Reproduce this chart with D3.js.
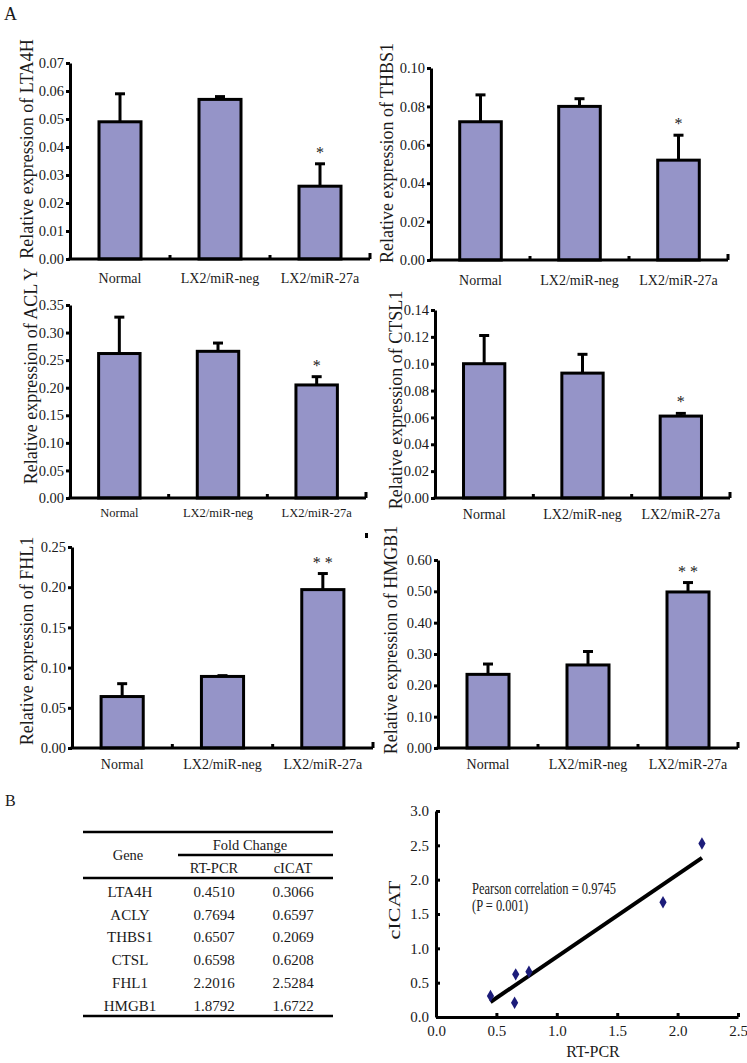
<!DOCTYPE html>
<html>
<head>
<meta charset="utf-8">
<script src="https://cdn.jsdelivr.net/npm/d3@7/dist/d3.min.js"></script>
<style>
  html, body { margin: 0; padding: 0; background: #fff; }
  svg { display: block; }
  text { font-family: "Liberation Serif", "Times New Roman", serif; fill: #1a1a1a; }
</style>
</head>
<body>
<svg id="chart" width="747" height="1063"></svg>
<script>
// ---------------- DATA ----------------
const categories = ["Normal", "LX2/miR-neg", "LX2/miR-27a"];

const lta4hMean = [0.049, 0.057, 0.026];
const lta4hErr  = [0.010, 0.001, 0.008];
const lta4hSig  = ["", "", "*"];
const lta4hTicks = [0, 0.01, 0.02, 0.03, 0.04, 0.05, 0.06, 0.07];

const thbs1Mean = [0.072, 0.080, 0.052];
const thbs1Err  = [0.014, 0.004, 0.013];
const thbs1Sig  = ["", "", "*"];
const thbs1Ticks = [0, 0.02, 0.04, 0.06, 0.08, 0.10];

const aclyMean = [0.262, 0.266, 0.205];
const aclyErr  = [0.066, 0.015, 0.015];
const aclySig  = ["", "", "*"];
const aclyTicks = [0, 0.05, 0.10, 0.15, 0.20, 0.25, 0.30, 0.35];

const ctsl1Mean = [0.100, 0.093, 0.061];
const ctsl1Err  = [0.021, 0.014, 0.002];
const ctsl1Sig  = ["", "", "*"];
const ctsl1Ticks = [0, 0.02, 0.04, 0.06, 0.08, 0.10, 0.12, 0.14];

const fhl1Mean = [0.064, 0.089, 0.197];
const fhl1Err  = [0.016, 0.001, 0.020];
const fhl1Sig  = ["", "", "* *"];
const fhl1Ticks = [0, 0.05, 0.10, 0.15, 0.20, 0.25];

const hmgb1Mean = [0.235, 0.265, 0.498];
const hmgb1Err  = [0.033, 0.043, 0.030];
const hmgb1Sig  = ["", "", "* *"];
const hmgb1Ticks = [0, 0.10, 0.20, 0.30, 0.40, 0.50, 0.60];

const panelTitles = ["Relative expression of LTA4H", "Relative expression of THBS1",
  "Relative expression of ACL Y", "Relative expression of CTSL1",
  "Relative expression of FHL1", "Relative expression of HMGB1"];

// Table / scatter data
const tableGenes = ["LTA4H", "ACLY", "THBS1", "CTSL", "FHL1", "HMGB1"];
const rtPcr = [0.4510, 0.7694, 0.6507, 0.6598, 2.2016, 1.8792];
const cIcat = [0.3066, 0.6597, 0.2069, 0.6208, 2.5284, 1.6722];
const scatterTicks = [0, 0.5, 1.0, 1.5, 2.0, 2.5];
const scatterYTicks = [0, 0.5, 1.0, 1.5, 2.0, 2.5, 3.0];
const pearsonText = ["Pearson correlation = 0.9745", "(P = 0.001)"];

// ---------------- LAYOUT ----------------
const panels = [
  { mean: lta4hMean, err: lta4hErr, sig: lta4hSig, ticks: lta4hTicks, fmt: ".2f",
    ax: 70, top: 63, bottom: 259, right: 370, tx: 33, ty: 149, lab: 283 },
  { mean: thbs1Mean, err: thbs1Err, sig: thbs1Sig, ticks: thbs1Ticks, fmt: ".2f",
    ax: 431, top: 68, bottom: 260, right: 728, tx: 393, ty: 153, lab: 285 },
  { mean: aclyMean, err: aclyErr, sig: aclySig, ticks: aclyTicks, fmt: ".2f",
    ax: 70, top: 305, bottom: 498, right: 366, tx: 37, ty: 376, lab: 517 },
  { mean: ctsl1Mean, err: ctsl1Err, sig: ctsl1Sig, ticks: ctsl1Ticks, fmt: ".2f",
    ax: 435, top: 310, bottom: 498, right: 730, tx: 402, ty: 400, lab: 519 },
  { mean: fhl1Mean, err: fhl1Err, sig: fhl1Sig, ticks: fhl1Ticks, fmt: ".2f",
    ax: 72, top: 547, bottom: 748, right: 373, tx: 33, ty: 641, lab: 769 },
  { mean: hmgb1Mean, err: hmgb1Err, sig: hmgb1Sig, ticks: hmgb1Ticks, fmt: ".2f",
    ax: 438, top: 560, bottom: 748, right: 738, tx: 397, ty: 640, lab: 769 }
];

const BAR_FILL = "#9594c8";
const svg = d3.select("#chart");

svg.append("text").attr("x", 4).attr("y", 20).attr("font-size", 18).text("A");
svg.append("text").attr("x", 5).attr("y", 806).attr("font-size", 16).text("B");

panels.forEach((p, i) => {
  const g = svg.append("g");
  const y = d3.scaleLinear()
    .domain([0, p.ticks[p.ticks.length - 1]])
    .range([p.bottom, p.top]);
  const x = d3.scaleBand()
    .domain(categories)
    .range([p.ax, p.right])
    .paddingInner(0.58)
    .paddingOuter(0.29);
  const step = x.step();

  // bars
  g.selectAll("rect.bar").data(p.mean).join("rect")
    .attr("class", "bar")
    .attr("x", (d, j) => x(categories[j]))
    .attr("y", d => y(d))
    .attr("width", x.bandwidth())
    .attr("height", d => y(0) - y(d))
    .attr("fill", BAR_FILL)
    .attr("stroke", "#000")
    .attr("stroke-width", 3);

  // error bars (upper only)
  p.mean.forEach((m, j) => {
    const cx = x(categories[j]) + x.bandwidth() / 2;
    const yt = y(m + p.err[j]);
    g.append("line").attr("x1", cx).attr("x2", cx)
      .attr("y1", y(m)).attr("y2", yt)
      .attr("stroke", "#000").attr("stroke-width", 3);
    g.append("line").attr("x1", cx - 5).attr("x2", cx + 5)
      .attr("y1", yt).attr("y2", yt)
      .attr("stroke", "#000").attr("stroke-width", 3);
    if (p.sig[j]) {
      g.append("text").attr("x", cx).attr("y", yt - 6)
        .attr("text-anchor", "middle").attr("font-size", 16)
        .attr("fill", "#333").text(p.sig[j]);
    }
  });

  // y axis
  const yAxis = d3.axisLeft(y).tickValues(p.ticks)
    .tickFormat(d3.format(p.fmt)).tickSize(4).tickSizeOuter(0).tickPadding(2);
  const ya = g.append("g").attr("transform", `translate(${p.ax},0)`).call(yAxis);
  ya.select(".domain").attr("stroke", "#000").attr("stroke-width", 3);
  ya.selectAll(".tick line").attr("stroke", "#000").attr("stroke-width", 3);
  ya.selectAll(".tick text").attr("font-size", 14.5)
    .attr("font-family", "'Liberation Serif', 'Times New Roman', serif")
    .attr("fill", "#1a1a1a");

  // x axis line
  g.append("line").attr("x1", p.ax - 1.5).attr("x2", p.right)
    .attr("y1", p.bottom).attr("y2", p.bottom)
    .attr("stroke", "#000").attr("stroke-width", 3);
  // category boundary ticks
  categories.forEach((c, j) => {
    const bx = x(c) + x.bandwidth() / 2 + step / 2;
    g.append("line").attr("x1", bx).attr("x2", bx)
      .attr("y1", p.bottom).attr("y2", p.bottom - (j === 2 ? 6 : 4))
      .attr("stroke", "#000").attr("stroke-width", 3);
  });
  // category labels
  categories.forEach(c => {
    g.append("text").attr("x", x(c) + x.bandwidth() / 2).attr("y", p.lab)
      .attr("text-anchor", "middle").attr("font-size", i === 2 ? 12.5 : 14)
      .text(c);
  });

  // y title
  g.append("text")
    .attr("transform", `translate(${p.tx},${p.ty}) rotate(-90)`)
    .attr("text-anchor", "middle").attr("font-size", 18)
    .attr("fill", "#333")
    .text(panelTitles[i]);
});

// small stray mark near the FHL1 panel
svg.append("rect").attr("x", 365).attr("y", 533).attr("width", 3).attr("height", 5).attr("fill", "#000");

// ---------------- TABLE ----------------
const tb = svg.append("g");
const colGene = 130, colRt = 214, colIc = 293;
const tLeft = 83, tRight = 333;
tb.append("line").attr("x1", tLeft).attr("x2", tRight).attr("y1", 832).attr("y2", 832)
  .attr("stroke", "#000").attr("stroke-width", 2.5);
tb.append("line").attr("x1", 178).attr("x2", tRight).attr("y1", 855).attr("y2", 855)
  .attr("stroke", "#000").attr("stroke-width", 2.5);
tb.append("line").attr("x1", tLeft).attr("x2", tRight).attr("y1", 878).attr("y2", 878)
  .attr("stroke", "#000").attr("stroke-width", 2.5);
tb.append("line").attr("x1", tLeft).attr("x2", tRight).attr("y1", 1016).attr("y2", 1016)
  .attr("stroke", "#000").attr("stroke-width", 2.5);
tb.append("text").attr("x", 250).attr("y", 850).attr("text-anchor", "middle").attr("font-size", 14.5).text("Fold Change");
tb.append("text").attr("x", 128).attr("y", 860).attr("text-anchor", "middle").attr("font-size", 14.5).text("Gene");
tb.append("text").attr("x", colRt).attr("y", 873).attr("text-anchor", "middle").attr("font-size", 14.5).text("RT-PCR");
tb.append("text").attr("x", colIc).attr("y", 873).attr("text-anchor", "middle").attr("font-size", 14.5).text("cICAT");
tableGenes.forEach((gname, k) => {
  const yy = 897 + k * 22.7;
  tb.append("text").attr("x", colGene).attr("y", yy).attr("text-anchor", "middle").attr("font-size", 15).text(gname);
  tb.append("text").attr("x", colRt).attr("y", yy).attr("text-anchor", "middle").attr("font-size", 15).text(rtPcr[k].toFixed(4));
  tb.append("text").attr("x", colIc).attr("y", yy).attr("text-anchor", "middle").attr("font-size", 15).text(cIcat[k].toFixed(4));
});

// ---------------- SCATTER ----------------
const sg = svg.append("g");
const sx = d3.scaleLinear().domain([0, 2.5]).range([436, 738]);
const sy = d3.scaleLinear().domain([0, 3.0]).range([1017, 811]);

const xAx = sg.append("g").attr("transform", "translate(0,1017)")
  .call(d3.axisBottom(sx).tickValues(scatterTicks).tickFormat(d3.format(".1f"))
    .tickSize(-4).tickSizeOuter(0).tickPadding(8));
xAx.select(".domain").attr("stroke", "#000").attr("stroke-width", 3);
xAx.selectAll(".tick line").attr("stroke", "#000").attr("stroke-width", 3);
xAx.selectAll(".tick text").attr("font-size", 15)
  .attr("font-family", "'Liberation Serif', 'Times New Roman', serif").attr("fill", "#1a1a1a");

const yAx = sg.append("g").attr("transform", "translate(436,0)")
  .call(d3.axisLeft(sy).tickValues(scatterYTicks).tickFormat(d3.format(".1f"))
    .tickSize(-4).tickSizeOuter(0).tickPadding(7));
yAx.select(".domain").attr("stroke", "#000").attr("stroke-width", 3);
yAx.selectAll(".tick line").attr("stroke", "#000").attr("stroke-width", 3);
yAx.selectAll(".tick text").attr("font-size", 15)
  .attr("font-family", "'Liberation Serif', 'Times New Roman', serif").attr("fill", "#1a1a1a");

// regression line (least squares)
const n = rtPcr.length;
const mx = d3.mean(rtPcr), my = d3.mean(cIcat);
let sxy = 0, sxx = 0;
for (let k = 0; k < n; k++) { sxy += (rtPcr[k] - mx) * (cIcat[k] - my); sxx += (rtPcr[k] - mx) ** 2; }
const slope = sxy / sxx, intercept = my - slope * mx;
const [xmin, xmax] = d3.extent(rtPcr);
sg.append("line")
  .attr("x1", sx(xmin)).attr("y1", sy(intercept + slope * xmin))
  .attr("x2", sx(xmax)).attr("y2", sy(intercept + slope * xmax))
  .attr("stroke", "#000").attr("stroke-width", 4);

sg.selectAll("path.pt").data(rtPcr).join("path")
  .attr("class", "pt")
  .attr("transform", (d, k) => `translate(${sx(d)},${sy(cIcat[k])})`)
  .attr("d", d3.symbol().type(d3.symbolDiamond).size(45))
  .attr("fill", "#1c1c7a");

sg.append("text").attr("x", 593).attr("y", 1057).attr("text-anchor", "middle").attr("font-size", 16).text("RT-PCR");
sg.append("text").attr("transform", "translate(400,910) rotate(-90) scale(1.3,1)")
  .attr("text-anchor", "middle").attr("font-size", 17).attr("fill", "#333").text("cICAT");

const pt = sg.append("g").attr("transform", "translate(472,0)");
pt.append("text").attr("transform", "translate(0,894) scale(0.78,1)").attr("font-size", 16).text(pearsonText[0]);
pt.append("text").attr("transform", "translate(0,911) scale(0.78,1)").attr("font-size", 16).text(pearsonText[1]);
</script>
</body>
</html>
